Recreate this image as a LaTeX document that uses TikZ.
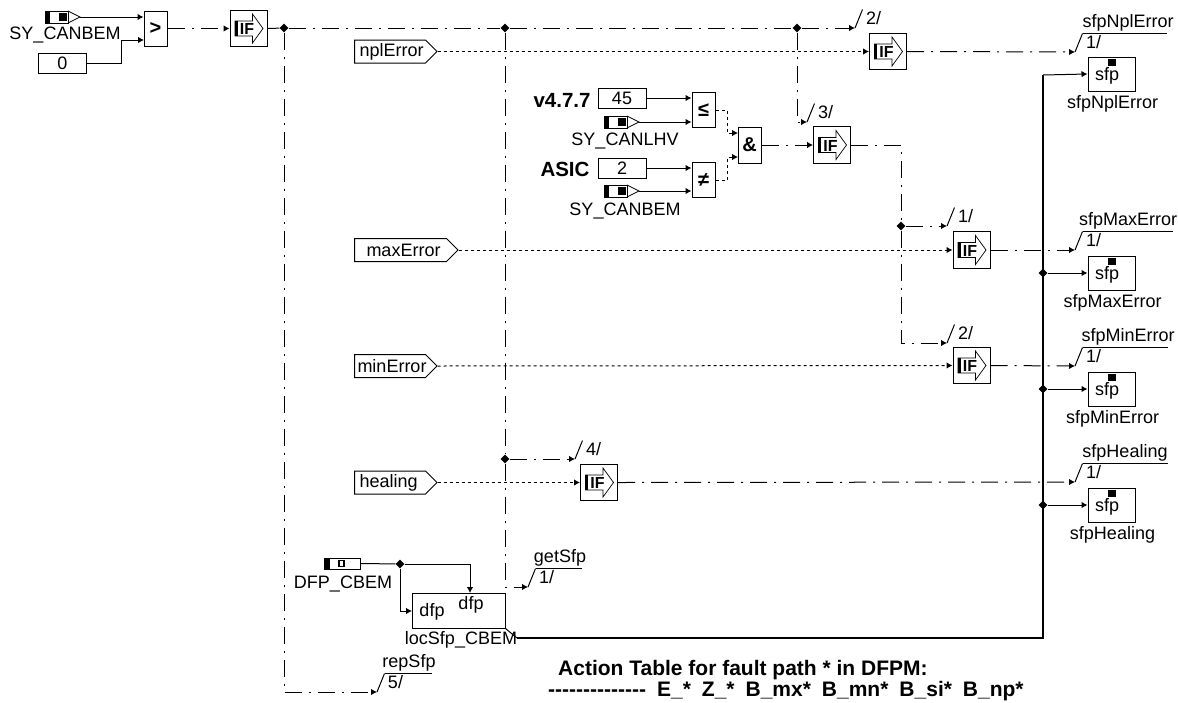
\documentclass[tikz,border=0pt]{standalone}
\usepackage{fontspec}
\setmainfont{Liberation Sans}
\usetikzlibrary{arrows.meta, shapes.geometric, shapes.symbols}

\tikzset{
  lbl/.style={font=\fontsize{18}{20}\selectfont, inner sep=0pt},
  boldlbl/.style={font=\fontsize{20.5}{22}\selectfont\bfseries, inner sep=0pt},
  block/.style={draw, line width=1pt, fill=white, inner sep=0pt},
  opbox/.style={block, minimum width=23pt, minimum height=35pt, font=\fontsize{20}{22}\selectfont\bfseries},
  valbox/.style={block, lbl, draw, minimum width=48pt, minimum height=20pt},
  ifbox/.style={block, minimum width=37pt, minimum height=36.5pt},
  sfpbox/.style={block, minimum width=47pt, minimum height=34pt},
  insig/.style={draw, line width=1pt, lbl, signal, signal to=east, signal pointer angle=90,
    minimum height=23pt, anchor=west, align=left},
  junction/.style={diamond, fill=black, inner sep=0pt, minimum size=9pt},
  tip/.style={-{Latex[length=6pt,width=6.5pt]}},
  wire/.style={line width=1pt},
  bus/.style={line width=2pt},
  ctrl/.style={line width=1pt, dash pattern=on 17pt off 7pt on 2pt off 7pt},
  data/.style={line width=1pt, dash pattern=on 3pt off 3pt},
}

% name, left end of the chip, centre line
\newcommand{\inchip}[3]{
  \begin{scope}[shift={(#2,#3)}]
    \node[draw, line width=0.8pt, minimum width=23pt, minimum height=12pt, inner sep=0pt, anchor=west] (#1) at (0,0) {};
    \fill (0,-6) rectangle (5,6);
    \fill (14,-4) rectangle (22,4);
    \draw[line width=0.7pt] (23,-6) -- (35,0) -- (23,6);
    \coordinate (#1-tip) at (35,0);
  \end{scope}
}
% name, centre of the box
\newcommand{\ifblock}[3]{
  \node[ifbox] (#1) at (#2,#3) {};
  \begin{scope}[shift={(#2,#3)}]
    \draw[line width=0.7pt] (-13.5,-7.5) -- (4,-7.5) -- (4,-14.5) -- (14.5,0) -- (4,14.5) -- (4,7.5) -- (-13.5,7.5) -- cycle;
    \fill (-13.5,-7.5) rectangle (-11,7.5);
    \node[font=\fontsize{16}{17}\selectfont\bfseries, inner sep=0pt] (#1-txt) at (-1.5,0.5) {IF};
  \end{scope}
}
% name, end of the arrow, number
\newcommand{\busmark}[4]{
  \coordinate (#1) at (#2,#3);
  \begin{scope}[shift={(#2,#3)}]
    \coordinate (#1-top) at (7.5,-18.5);
    \draw[wire] (#1) -- (#1-top);
    \node[lbl] (#1-num) at (18.5,-9.5) {#4};
  \end{scope}
}
% name, end of the arrow, number, text, length of the bar, middle of the text
\newcommand{\outmark}[7]{
  \busmark{#1}{#2}{#3}{#4}
  \coordinate (#1-bar) at (#2+#6,#3-18.5);
  \draw[wire] (#1-top) -- (#1-bar);
  \node[lbl] (#1-lbl) at (#2+#7,#3-29.5) {#5};
}
% name, top of the box, label
\newcommand{\sfpblock}[3]{
  \node[sfpbox] (#1) at (1111.5,#2+17) {};
  \fill (1108,#2+2) rectangle (1116,#2+9);
  \node[lbl] (#1-txt) at (1107,#2+19) {sfp};
  \node[lbl] (#1-lbl) at (1112.5,#2+47) {#3};
}

\begin{document}
\begin{tikzpicture}[x=1pt, y=-1pt]
  \useasboundingbox (0,0) rectangle (1178,702);
  %--- enable condition ---
  \inchip{canbemA}{45}{17}
  \node[lbl] (canbemAlbl) at (65,35.5) {SY\_CANBEM};
  \node[valbox] (zero) at (62.5,63) {0};
  \node[opbox] (gtBox) at (155.5,28.5) {>};
  \coordinate (gtIn) at (144,40);
  \coordinate (gtBend) at (121,40);
  \draw[wire, tip] (canbemA-tip) -- (gtBox.west |- canbemA-tip);
  \draw[wire] (zero.east) -| (gtBend);
  \draw[wire, tip] (gtBend) -- (gtIn);
  \ifblock{ifMain}{248.5}{28.5}
  \draw[ctrl, tip] (gtBox.east) -- (ifMain.west);
  \node[junction] (jLeft) at (284,28) {};
  \node[junction] (jMid) at (505,28) {};
  \node[junction] (jTop) at (797,28) {};
  \draw[wire] (ifMain.east) -- (jLeft);
  \draw[ctrl] (jLeft) -- (jMid);
  \draw[ctrl] (jMid) -- (jTop);
  %--- inputs ---
  \node[insig, text width=71pt] (nplError) at (354,51.5) {\mbox{\hspace{5pt}nplError}};
  \node[insig, text width=92pt] (maxError) at (354,250) {\mbox{\hspace{12pt}maxError}};
  \node[insig, text width=71pt] (minError) at (354,366) {\mbox{\hspace{3pt}minError}};
  \node[insig, text width=71pt] (healing) at (354,482.5) {\mbox{\hspace{5pt}healing}};
  %--- if blocks ---
  \ifblock{ifNpl}{888}{51.5}
  \ifblock{ifCmp}{832}{145}
  \ifblock{ifMax}{971.5}{250}
  \ifblock{ifMin}{971.5}{365.5}
  \ifblock{ifHeal}{599}{482.5}
  \draw[data, tip] (nplError.east) -- (ifNpl.west);
  \draw[data, tip] (maxError.east) -- (ifMax.west);
  \draw[data, tip] (minError.east) -- (ifMin.west);
  \draw[data, tip] (healing.east) -- (ifHeal.west);
  %--- bus numbers ---
  \busmark{markNpl}{855}{28}{2/}
  \busmark{markCmp}{807}{122}{3/}
  \busmark{markMax}{947}{226}{1/}
  \busmark{markMin}{947}{343}{2/}
  \busmark{markHeal}{575}{459}{4/}
  \draw[ctrl, tip] (jTop) -- (markNpl);
  \draw[ctrl, tip] (jTop) |- (markCmp);
  %--- version check ---
  \node[boldlbl] (verTxt) at (562,100) {v4.7.7};
  \node[valbox] (verVal) at (622,98) {45};
  \inchip{canlhv}{604}{122}
  \node[lbl] (canlhvLbl) at (625,140.5) {SY\_CANLHV};
  \node[opbox] (cmpLe) at (703.5,110) {≤};
  \node[boldlbl] (asicTxt) at (565,169) {ASIC};
  \node[valbox] (asicVal) at (622,168) {2};
  \inchip{canbemB}{604}{191}
  \node[lbl] (canbemBlbl) at (625,210.5) {SY\_CANBEM};
  \node[opbox] (cmpNe) at (703.5,180) {≠};
  \node[opbox, minimum height=36pt] (andBox) at (749.5,145) {\&};
  \coordinate (andInA) at (738,133);
  \coordinate (andInB) at (738,157);
  \coordinate (leOut) at (727,110);
  \coordinate (neOut) at (727,180);
  \draw[wire, tip] (verVal.east) -- (cmpLe.west |- verVal.east);
  \draw[wire, tip] (canlhv-tip) -- (cmpLe.west |- canlhv-tip);
  \draw[wire, tip] (asicVal.east) -- (cmpNe.west |- asicVal.east);
  \draw[wire, tip] (canbemB-tip) -- (cmpNe.west |- canbemB-tip);
  \draw[data, tip] (cmpLe.east) -- (leOut) |- (andInA);
  \draw[data, tip] (cmpNe.east) -- (neOut) |- (andInB);
  \draw[ctrl, tip] (andBox.east) -- (ifCmp.west);
  %--- split of the check ---
  \coordinate (cmpBend) at (901,145);
  \node[junction] (jCmp) at (901,226) {};
  \draw[ctrl] (ifCmp.east) -- (cmpBend) -- (jCmp);
  \draw[ctrl, tip] (jCmp) -- (markMax);
  \draw[ctrl, tip] (jCmp) |- (markMin);
  %--- outputs ---
  \outmark{outNpl}{1075}{52}{1/}{sfpNplError}{92}{53}
  \outmark{outMax}{1075}{250}{1/}{sfpMaxError}{98}{53}
  \outmark{outMin}{1075}{366}{1/}{sfpMinError}{93}{53}
  \outmark{outHeal}{1075}{482}{1/}{sfpHealing}{93}{50}
  \draw[ctrl, tip] (ifNpl.east) -- (outNpl);
  \draw[ctrl, tip] (ifMax.east) -- (outMax);
  \draw[ctrl, tip] (ifMin.east) -- (outMin);
  \draw[ctrl, tip] (ifHeal.east) -- (outHeal);
  \sfpblock{sfpNpl}{57}{sfpNplError}
  \sfpblock{sfpMax}{256}{sfpMaxError}
  \sfpblock{sfpMin}{372}{sfpMinError}
  \sfpblock{sfpHeal}{488}{sfpHealing}
  %--- local value ---
  \node[draw, line width=1pt, minimum width=36pt, minimum height=11pt, inner sep=0pt] (dfpIn) at (342,563.5) {};
  \fill (324,558) rectangle (330,569);
  \draw[line width=1.6pt] (339,560.5) rectangle (344,566.5);
  \node[lbl] (dfpLbl) at (343,584) {DFP\_CBEM};
  \node[block, minimum width=93pt, minimum height=35pt] (locSfp) at (458.5,610.5) {};
  \node[lbl] (locIn) at (432,612) {dfp};
  \node[lbl] (locTop) at (471,605) {dfp};
  \coordinate (locOut) at (517,638);
  \draw[wire] (locSfp.south east) -- (locOut);
  \node[lbl] (locLbl) at (461,640) {locSfp\_CBEM};
  \node[junction] (jDfp) at (400,564) {};
  \coordinate (locWest) at (412,611);
  \coordinate (locNorth) at (470,593);
  \draw[wire] (dfpIn.east) -- (jDfp);
  \draw[wire, tip] (jDfp) -| (locNorth);
  \draw[wire, tip] (jDfp) |- (locWest);
  %--- value bus ---
  \coordinate (busTop) at (1043,75);
  \draw[bus] (locOut) -| (busTop);
  \draw[wire, tip] (busTop) -- (sfpNpl.west);
  \node[junction] (jMax) at (1043,273) {};
  \node[junction] (jMin) at (1043,389) {};
  \node[junction] (jHeal) at (1043,505) {};
  \draw[wire, tip] (jMax) -- (sfpMax.west);
  \draw[wire, tip] (jMin) -- (sfpMin.west);
  \draw[wire, tip] (jHeal) -- (sfpHeal.west);
  %--- long control lines ---
  \node[junction] (jHealCtl) at (505,459) {};
  \outmark{outGet}{528}{587}{1/}{getSfp}{54}{32}
  \outmark{outRep}{377}{692}{5/}{repSfp}{55}{32}
  \draw[ctrl] (jMid) -- (jHealCtl);
  \draw[ctrl, tip] (jHealCtl) -- (markHeal);
  \draw[ctrl, tip] (jHealCtl) |- (outGet);
  \draw[ctrl, tip] (jLeft) |- (outRep);
  %--- action table ---
  \node[boldlbl, anchor=west, font=\fontsize{21}{23}\selectfont\bfseries] (actTitle) at (558,670) {Action Table for fault path * in DFPM:};
  \node[boldlbl, anchor=west, font=\fontsize{21}{23}\selectfont\bfseries] (actHead) at (548,691) {-{}-{}-{}-{}-{}-{}-{}-{}-{}-{}-{}-{}-{}-\hspace{11pt}E\_*\hspace{11pt}Z\_*\hspace{11pt}B\_mx*\hspace{11pt}B\_mn*\hspace{11pt}B\_si*\hspace{11pt}B\_np*};
\end{tikzpicture}
\end{document}
